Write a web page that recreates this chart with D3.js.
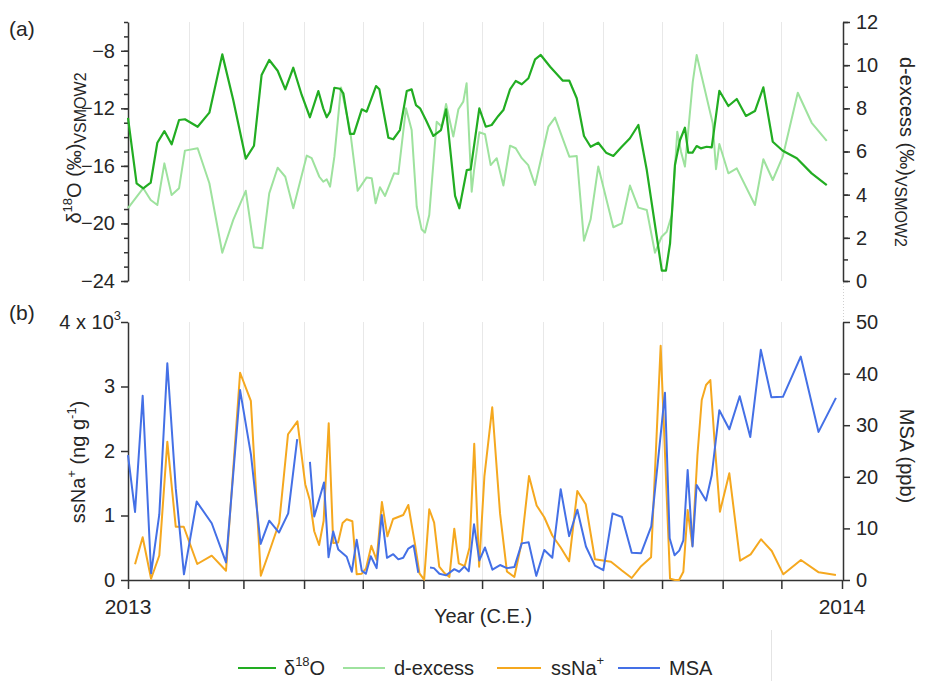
<!DOCTYPE html>
<html>
<head>
<meta charset="utf-8">
<script src="https://cdn.jsdelivr.net/npm/d3@7/dist/d3.min.js"></script>
<style>
  body { margin: 0; background: #fff; }
  svg { display: block; }
  text { font-family: "Liberation Sans", Arial, sans-serif; fill: #262626; }
</style>
</head>
<body>
<svg id="chart" width="925" height="681"></svg>
<script>
// Samples as [day of year 2013, value]; null marks a break in the record.
const d18o = [[0,-12.67],[4.4,-17.21],[7.8,-17.56],[11.6,-17.17],[15.0,-14.39],[18.6,-13.58],[22.3,-14.50],[26.1,-12.81],[29.1,-12.76],[35.6,-13.28],[41.6,-12.30],[48.2,-8.25],[53.8,-11.42],[60.2,-15.50],[64.4,-14.60],[68.3,-9.68],[72.2,-8.64],[76.5,-9.39],[80.4,-10.68],[84.5,-9.18],[88.8,-11.07],[93.0,-12.62],[97.3,-10.80],[99.8,-12.00],[101.6,-12.62],[103.3,-12.23],[105.5,-10.57],[108.4,-10.64],[110.1,-10.96],[113.5,-13.78],[115.5,-13.78],[119.5,-12.07],[122.0,-12.23],[126.8,-10.45],[128.5,-10.68],[133.1,-14.04],[135.6,-14.15],[139.0,-13.51],[142.5,-10.80],[145.0,-10.68],[147.2,-11.77],[149.3,-12.00],[152.3,-12.81],[156.1,-13.92],[160.0,-13.51],[162.6,-12.07],[167.2,-18.09],[169.4,-18.95],[173.2,-16.29],[175.2,-16.24],[179.6,-12.00],[182.9,-13.28],[185.9,-13.16],[189.3,-12.53],[191.9,-12.12],[195.3,-10.68],[198.2,-10.10],[201.3,-10.33],[204.7,-9.91],[208.1,-8.59],[211.0,-8.29],[215.8,-9.11],[222.3,-10.08],[225.6,-10.08],[229.4,-11.30],[233.1,-13.92],[236.5,-14.67],[240.4,-14.39],[244.4,-15.08],[248.1,-15.31],[252.4,-14.67],[256.6,-14.08],[260.9,-13.16],[265.2,-16.29],[269.4,-20.11],[272.9,-23.28],[275.0,-23.28],[277.1,-21.38],[279.6,-15.94],[282.2,-14.20],[284.7,-13.35],[286.4,-15.08],[288.6,-15.08],[290.7,-14.62],[292.8,-14.78],[295.8,-14.67],[298.4,-14.71],[302.3,-10.78],[306.9,-11.84],[311.2,-11.35],[315.9,-12.53],[320.5,-12.19],[324.8,-10.54],[329.6,-14.32],[334.7,-14.95],[341.9,-15.47],[349.5,-16.52],[357.2,-17.33]];

const dExcess = [[0,3.38],[7.8,4.30],[11.6,3.75],[15.0,3.52],[18.6,5.45],[22.3,3.98],[26.1,4.30],[29.1,6.04],[35.6,6.15],[41.6,4.53],[48.2,1.31],[53.8,2.83],[60.2,4.18],[64.4,1.56],[68.7,1.52],[72.2,4.06],[76.5,5.25],[80.4,4.83],[84.5,3.37],[91.4,5.81],[93.9,5.69],[97.8,4.83],[99.8,4.60],[101.6,4.71],[103.3,4.37],[105.5,5.76],[108.9,8.97],[113.5,7.00],[117.4,4.18],[122.0,4.80],[124.6,4.76],[126.6,3.60],[128.8,4.34],[131.4,3.94],[136.0,4.99],[138.2,4.96],[142.1,8.00],[145.0,7.00],[147.6,3.44],[150.1,2.40],[151.8,2.24],[154.0,3.06],[157.8,7.38],[160.4,7.15],[162.6,8.20],[166.3,6.69],[168.9,7.96],[171.4,8.31],[173.1,9.16],[175.7,4.14],[176.9,5.14],[179.6,6.89],[182.5,6.80],[185.4,5.37],[188.5,5.69],[191.9,4.42],[195.3,6.27],[198.2,6.15],[201.3,5.69],[204.6,5.37],[208.1,4.45],[214.9,7.15],[218.3,7.57],[225.6,5.76],[229.4,5.79],[233.1,1.87],[236.5,2.86],[240.4,5.30],[248.1,2.49],[252.4,2.67],[256.6,4.42],[260.9,3.40],[265.2,3.29],[269.4,1.31],[272.8,2.05],[275.4,2.28],[278.0,3.06],[280.8,6.92],[282.7,5.99],[284.7,5.30],[288.7,9.21],[290.7,10.47],[294.1,9.16],[298.9,7.31],[300.6,5.18],[302.3,6.35],[306.9,4.99],[311.2,5.22],[320.5,3.52],[324.8,5.64],[329.6,4.68],[334.7,5.76],[342.4,8.72],[349.5,7.33],[357.2,6.49]];

const ssNa = [[3.6,243],[7.5,662],[11.8,19],[16.0,380],[20.1,2144],[24.4,826],[28.5,826],[35.4,248],[42.8,377],[50.1,143],[57.3,3213],[62.8,2778],[67.9,67],[72.4,453],[77.3,888],[81.8,2260],[86.6,2460],[90.6,1485],[93.0,1232],[95.2,756],[97.7,543],[100.0,915],[102.6,2429],[104.9,574],[107.4,581],[109.7,884],[111.8,941],[114.7,910],[116.9,90],[119.5,98],[121.7,181],[124.4,530],[127.1,310],[129.8,1209],[132.6,677],[135.5,946],[140.7,1008],[143.3,1163],[146.7,555],[149.0,104],[151.4,5],[154.0,1097],[156.5,891],[159.1,206],[161.9,104],[164.3,47],[166.8,795],[169.1,259],[172.1,214],[174.6,504],[177.0,2113],[179.5,206],[182.2,1612],[186.2,2678],[190.2,1028],[193.7,132],[197.5,47],[201.3,594],[205.0,1612],[208.9,1155],[212.8,973],[216.9,690],[221.2,504],[225.5,290],[229.7,1380],[234.0,1175],[238.7,322],[246.9,284],[252.5,147],[257.5,31],[262.3,214],[267.4,352],[272.3,3630],[277.1,19],[279.6,0],[281.7,0],[283.9,129],[286.1,1085],[288.5,530],[291.1,1938],[293.3,2790],[295.5,3023],[297.7,3100],[300.1,2041],[302.6,1059],[307.4,1654],[312.9,299],[318.3,398],[323.6,631],[329.1,450],[335.0,88],[344.0,310],[353.1,119],[361.9,78]];

const msa = [[0,24.2],[3.6,13.2],[7.5,35.7],[11.8,1.3],[16.0,12.7],[20.1,42.0],[24.4,17.8],[28.6,1.1],[35.1,15.2],[42.8,11.0],[50.1,3.4],[57.3,36.8],[62.9,24.2],[67.8,7.0],[72.2,11.5],[77.2,9.2],[81.9,12.9],[86.5,27.3],[89.8,null],[93.0,22.9],[95.2,12.3],[100.2,18.9],[102.5,4.4],[104.9,9.4],[107.5,5.9],[111.8,4.5],[114.4,1.6],[116.9,7.8],[119.5,1.8],[121.6,1.2],[124.1,4.6],[127.1,2.3],[129.7,12.6],[132.4,4.3],[135.6,5.0],[138.2,4.0],[140.7,4.3],[143.3,6.1],[146.0,6.7],[148.4,1.4],[151.4,null],[154.4,2.4],[156.4,2.3],[159.2,1.2],[162.6,0.9],[166.8,2.1],[169.3,1.6],[171.9,2.6],[174.2,1.7],[176.9,10.8],[179.6,3.8],[182.5,6.3],[186.3,2.0],[190.2,2.9],[193.7,2.3],[197.5,2.5],[201.3,7.1],[204.8,7.3],[208.7,0.8],[212.8,5.8],[216.9,4.3],[221.2,17.6],[225.5,8.5],[229.7,13.6],[234.1,6.5],[238.7,2.8],[243.0,1.9],[247.7,12.9],[252.5,12.2],[257.5,5.3],[262.3,5.2],[267.5,10.4],[274.5,36.3],[276.9,8.1],[279.4,4.8],[281.8,5.7],[283.9,7.7],[286.1,21.3],[288.6,6.5],[290.7,18.4],[295.5,15.4],[298.4,20.3],[302.3,32.9],[307.4,29.2],[312.7,35.6],[318.1,27.7],[323.5,44.6],[328.9,35.4],[334.8,35.5],[343.9,43.3],[353.0,28.7],[361.9,35.3]];

// Axis ticks and labels
const d18oTicks = [-24, -20, -16, -12, -8];
const dExcessTicks = [0, 2, 4, 6, 8, 10, 12];
const ssNaTicks = [0, 1000, 2000, 3000, 4000];
const ssNaTickLabels = ["0", "1", "2", "3", ""];
const msaTicks = [0, 10, 20, 30, 40, 50];
const yearLabels = ["2013", "2014"];

const colors = { d18o: "#22ad22", dExcess: "#9ee29e", ssNa: "#f5a81f", msa: "#4470e6" };

const FONT = "20px";
const svg = d3.select("#chart");

const t0 = Date.UTC(2013, 0, 1), t1 = Date.UTC(2014, 0, 1);
const toDate = day => new Date(t0 + day * 864e5);
const x = d3.scaleUtc().domain([t0, t1]).range([128, 842]);

const yO = d3.scaleLinear().domain([-24, -6]).range([281, 22]);
const yD = d3.scaleLinear().domain([0, 12]).range([281, 22]);
const yNa = d3.scaleLinear().domain([0, 4000]).range([580, 322]);
const yMsa = d3.scaleLinear().domain([0, 50]).range([580, 322]);

const months = d3.utcMonth.range(Date.UTC(2013, 1, 1), t1);

// month gridlines in both panels
const grid = svg.append("g").attr("stroke", "#e8e8e8").attr("stroke-width", 1);
[[22, 281], [322, 580]].forEach(([ya, yb]) => {
  grid.selectAll(null).data(months).join("line")
    .attr("x1", d => Math.round(x(d)) + 0.5).attr("x2", d => Math.round(x(d)) + 0.5)
    .attr("y1", ya).attr("y2", yb);
});

// faint link between the two right-hand axes, and the divider by the legend
svg.append("line").attr("x1", 843.5).attr("x2", 843.5).attr("y1", 283).attr("y2", 320)
  .attr("stroke", "#cfcfcf").attr("stroke-dasharray", "1,2");
svg.append("line").attr("x1", 771.5).attr("x2", 771.5).attr("y1", 630).attr("y2", 681)
  .attr("stroke", "#e4e4e4");

function styleAxis(g) {
  g.selectAll("path.domain").attr("stroke", "#333").attr("stroke-width", 1.5);
  g.selectAll(".tick line").attr("stroke", "#333").attr("stroke-width", 1.5);
  g.selectAll(".tick text").style("font-size", FONT).attr("fill", "#262626")
    .style("font-family", "'Liberation Sans', Arial, sans-serif");
}

// top panel: left δ18O axis
svg.append("g").attr("transform", "translate(128,0)")
  .call(d3.axisLeft(yO).tickValues(d3.range(-24, -5, 1)).tickSize(4).tickFormat("").tickSizeOuter(0))
  .call(styleAxis);
svg.append("g").attr("transform", "translate(128,0)")
  .call(d3.axisLeft(yO).tickValues(d18oTicks).tickSize(7).tickPadding(6).tickSizeOuter(0))
  .call(styleAxis).call(g => g.select("path.domain").remove());

// top panel: right d-excess axis
svg.append("g").attr("transform", "translate(843,0)")
  .call(d3.axisRight(yD).tickValues(d3.range(0, 13, 1)).tickSize(5).tickFormat("").tickSizeOuter(0))
  .call(styleAxis);
svg.append("g").attr("transform", "translate(843,0)")
  .call(d3.axisRight(yD).tickValues(dExcessTicks).tickSize(7).tickPadding(6).tickSizeOuter(0))
  .call(styleAxis).call(g => g.select("path.domain").remove());

// bottom panel axes
svg.append("g").attr("transform", "translate(128,0)")
  .call(d3.axisLeft(yNa).tickValues(ssNaTicks).tickSize(7).tickPadding(6).tickSizeOuter(0)
    .tickFormat((d, i) => ssNaTickLabels[i]))
  .call(styleAxis);
svg.append("g").attr("transform", "translate(843,0)")
  .call(d3.axisRight(yMsa).tickValues(msaTicks).tickSize(7).tickPadding(6).tickSizeOuter(0))
  .call(styleAxis);
svg.append("g").attr("transform", "translate(0,580)")
  .call(d3.axisBottom(x).tickValues([new Date(t0), ...months, new Date(t1)]).tickSize(9)
    .tickFormat("").tickSizeOuter(0))
  .call(styleAxis);

// the ×10³ multiplier at the top of the ssNa+ axis
const mult = svg.append("text").attr("x", 121).attr("y", yNa(4000) + 7)
  .attr("text-anchor", "end").style("font-size", FONT);
mult.append("tspan").text("4 x 10");
mult.append("tspan").attr("dy", -9).style("font-size", "13px").text("3");

// year labels
svg.selectAll(null).data([t0, t1]).join("text")
  .attr("x", d => x(d)).attr("y", 614).attr("text-anchor", "middle")
  .style("font-size", "21px").text((d, i) => yearLabels[i]);

// series
const line = (yScale) => d3.line()
  .defined(d => d[1] != null)
  .x(d => x(toDate(d[0])))
  .y(d => yScale(d[1]));

function drawSeries(data, yScale, color, width) {
  svg.append("path").datum(data)
    .attr("fill", "none").attr("stroke", color).attr("stroke-width", width)
    .attr("stroke-linejoin", "round").attr("d", line(yScale));
}
drawSeries(dExcess, yD, colors.dExcess, 2);
drawSeries(d18o, yO, colors.d18o, 2.2);
drawSeries(ssNa, yNa, colors.ssNa, 2);
drawSeries(msa, yMsa, colors.msa, 2);

// panel letters
svg.append("text").attr("x", 9).attr("y", 36).style("font-size", "21px").text("(a)");
svg.append("text").attr("x", 9).attr("y", 320).style("font-size", "21px").text("(b)");

// axis titles
const t1Title = svg.append("text").attr("transform", "translate(81,148) rotate(-90)")
  .attr("text-anchor", "middle").style("font-size", FONT);
t1Title.append("tspan").text("δ");
t1Title.append("tspan").attr("dy", -9).style("font-size", "13px").text("18");
t1Title.append("tspan").attr("dy", 9).text("O (‰)");
t1Title.append("tspan").attr("dy", 5).style("font-size", "16px").text("VSMOW2");

const t2Title = svg.append("text").attr("transform", "translate(900,152) rotate(90)")
  .attr("text-anchor", "middle").style("font-size", FONT);
t2Title.append("tspan").text("d-excess (‰)");
t2Title.append("tspan").attr("dy", 5).style("font-size", "16px").text("VSMOW2");

const t3Title = svg.append("text").attr("transform", "translate(85,462) rotate(-90)")
  .attr("text-anchor", "middle").style("font-size", FONT);
t3Title.append("tspan").text("ssNa");
t3Title.append("tspan").attr("dy", -9).style("font-size", "13px").text("+");
t3Title.append("tspan").attr("dy", 9).text(" (ng g");
t3Title.append("tspan").attr("dy", -9).style("font-size", "13px").text("-1");
t3Title.append("tspan").attr("dy", 9).text(")");

svg.append("text").attr("transform", "translate(900,456) rotate(90)")
  .attr("text-anchor", "middle").style("font-size", FONT).text("MSA (ppb)");

svg.append("text").attr("x", 483).attr("y", 623).attr("text-anchor", "middle")
  .style("font-size", FONT).text("Year (C.E.)");

// legend
const legendItems = [
  { key: "d18o", x1: 238, x2: 276, tx: 284, parts: [["δ", 0], ["18", -9], ["O", 0]] },
  { key: "dExcess", x1: 343, x2: 385, tx: 394, parts: [["d-excess", 0]] },
  { key: "ssNa", x1: 497, x2: 541, tx: 551, parts: [["ssNa", 0], ["+", -10]] },
  { key: "msa", x1: 618, x2: 660, tx: 669, parts: [["MSA", 0]] }
];
const lg = svg.append("g");
legendItems.forEach(it => {
  lg.append("line").attr("x1", it.x1).attr("x2", it.x2).attr("y1", 668).attr("y2", 668)
    .attr("stroke", colors[it.key]).attr("stroke-width", 2.2);
  const t = lg.append("text").attr("x", it.tx).attr("y", 675).style("font-size", FONT);
  let prev = 0;
  it.parts.forEach(([s, dy]) => {
    t.append("tspan").attr("dy", dy - prev).style("font-size", dy ? "13px" : FONT).text(s);
    prev = dy;
  });
});
</script>
</body>
</html>
